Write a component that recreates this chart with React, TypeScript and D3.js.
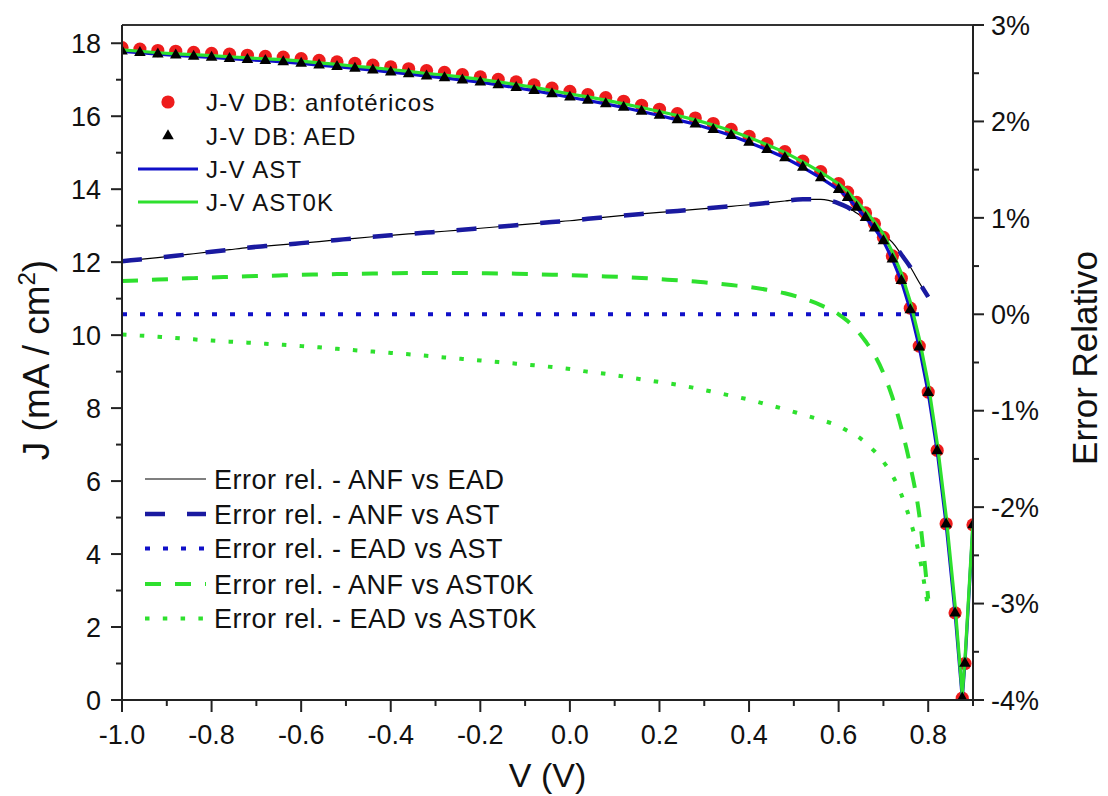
import React from 'react';
import * as d3 from 'd3';

// ---------------- data ----------------
const voltage = [
  -1.0, -0.96, -0.92, -0.88, -0.84, -0.8, -0.76, -0.72, -0.68, -0.64,
  -0.6, -0.56, -0.52, -0.48, -0.44, -0.4, -0.36, -0.32, -0.28, -0.24,
  -0.2, -0.16, -0.12, -0.08, -0.04, 0.0, 0.04, 0.08, 0.12, 0.16,
  0.2, 0.24, 0.28, 0.32, 0.36, 0.4, 0.44, 0.48, 0.52, 0.56,
  0.6, 0.62, 0.64, 0.66, 0.68, 0.7, 0.72, 0.74, 0.76, 0.78,
  0.8, 0.82, 0.84, 0.86, 0.876, 0.882, 0.9,
];

// J-V DB: anfotéricos (red circles)
const jAnfotericos = [
  17.88, 17.84, 17.80, 17.78, 17.75, 17.72, 17.70, 17.67, 17.64, 17.62,
  17.58, 17.53, 17.49, 17.45, 17.40, 17.35, 17.30, 17.25, 17.20, 17.14,
  17.08, 17.01, 16.94, 16.86, 16.77, 16.68, 16.59, 16.51, 16.41, 16.30,
  16.19, 16.07, 15.95, 15.80, 15.64, 15.45, 15.25, 15.03, 14.77, 14.48,
  14.15, 13.92, 13.64, 13.35, 13.05, 12.68, 12.17, 11.56, 10.74, 9.70,
  8.44, 6.84, 4.83, 2.39, 0.05, 1.0, 4.8,
];

// J-V DB: AED (black triangles)
const jAed = [
  17.78, 17.74, 17.70, 17.67, 17.64, 17.61, 17.58, 17.55, 17.52, 17.49,
  17.45, 17.40, 17.36, 17.31, 17.26, 17.21, 17.16, 17.10, 17.05, 16.99,
  16.93, 16.86, 16.78, 16.70, 16.61, 16.52, 16.43, 16.34, 16.24, 16.13,
  16.02, 15.90, 15.78, 15.63, 15.47, 15.28, 15.08, 14.86, 14.60, 14.31,
  13.99, 13.77, 13.50, 13.22, 12.93, 12.58, 12.08, 11.49, 10.69, 9.67,
  8.42, 6.83, 4.82, 2.38, 0.05, 1.0, 4.8,
];

// J-V AST (blue line)
const jAst = [
  17.78, 17.74, 17.70, 17.67, 17.64, 17.61, 17.58, 17.55, 17.52, 17.49,
  17.45, 17.40, 17.36, 17.31, 17.26, 17.21, 17.16, 17.10, 17.05, 16.99,
  16.93, 16.86, 16.78, 16.70, 16.61, 16.52, 16.43, 16.34, 16.24, 16.13,
  16.02, 15.90, 15.78, 15.63, 15.47, 15.28, 15.08, 14.86, 14.60, 14.31,
  13.99, 13.77, 13.50, 13.22, 12.93, 12.58, 12.08, 11.49, 10.69, 9.67,
  8.42, 6.83, 4.82, 2.38, 0.05, 1.0, 4.8,
];

// J-V AST0K (green line)
const jAst0k = [
  17.82, 17.78, 17.74, 17.71, 17.69, 17.66, 17.63, 17.60, 17.57, 17.55,
  17.51, 17.46, 17.42, 17.37, 17.33, 17.28, 17.23, 17.17, 17.13, 17.07,
  17.01, 16.94, 16.87, 16.79, 16.70, 16.61, 16.53, 16.44, 16.34, 16.24,
  16.13, 16.02, 15.90, 15.76, 15.60, 15.42, 15.22, 15.01, 14.75, 14.47,
  14.15, 13.94, 13.67, 13.40, 13.11, 12.77, 12.28, 11.70, 10.92, 9.91,
  8.68, 7.05, 5.05, 2.60, 0.15, 1.1, 4.9,
];

// Relative errors (%), V from -1.0 to 0.80 (first 51 voltages)
const errAnfVsEad = [
  0.550, 0.569, 0.588, 0.607, 0.628, 0.649, 0.670, 0.691, 0.707, 0.722,
  0.738, 0.754, 0.771, 0.788, 0.804, 0.819, 0.833, 0.847, 0.861, 0.876,
  0.892, 0.908, 0.924, 0.940, 0.956, 0.970, 0.990, 1.008, 1.025, 1.041,
  1.057, 1.072, 1.088, 1.104, 1.120, 1.136, 1.155, 1.175, 1.192, 1.192,
  1.150, 1.110, 1.050, 0.990, 0.905, 0.830, 0.745, 0.620, 0.490, 0.330,
  0.180,
];

const errAnfVsAst = [
  0.550, 0.569, 0.588, 0.607, 0.628, 0.649, 0.670, 0.691, 0.707, 0.722,
  0.738, 0.754, 0.771, 0.788, 0.804, 0.819, 0.833, 0.847, 0.861, 0.876,
  0.892, 0.908, 0.924, 0.940, 0.956, 0.970, 0.990, 1.008, 1.025, 1.041,
  1.057, 1.072, 1.088, 1.104, 1.120, 1.136, 1.155, 1.175, 1.192, 1.192,
  1.150, 1.110, 1.050, 0.990, 0.905, 0.830, 0.745, 0.620, 0.490, 0.330,
  0.180,
];

const errEadVsAst = [
  0, 0, 0, 0, 0, 0, 0, 0, 0, 0,
  0, 0, 0, 0, 0, 0, 0, 0, 0, 0,
  0, 0, 0, 0, 0, 0, 0, 0, 0, 0,
  0, 0, 0, 0, 0, 0, 0, 0, 0, 0,
  0, 0, 0, 0, 0, 0, 0, 0, 0, 0,
  0,
];

const errAnfVsAst0k = [
  0.345, 0.352, 0.360, 0.368, 0.375, 0.382, 0.388, 0.394, 0.399, 0.404,
  0.409, 0.413, 0.417, 0.420, 0.423, 0.425, 0.427, 0.428, 0.429, 0.428,
  0.426, 0.424, 0.421, 0.416, 0.411, 0.405, 0.399, 0.393, 0.386, 0.377,
  0.365, 0.352, 0.340, 0.322, 0.303, 0.283, 0.255, 0.218, 0.165, 0.095,
  0.000, -0.070, -0.160, -0.280, -0.420, -0.610, -0.860, -1.180, -1.570, -2.080,
  -2.950,
];

const errEadVsAst0k = [
  -0.210, -0.220, -0.232, -0.245, -0.260, -0.273, -0.284, -0.294, -0.305, -0.316,
  -0.329, -0.343, -0.358, -0.373, -0.387, -0.401, -0.415, -0.431, -0.447, -0.463,
  -0.479, -0.496, -0.512, -0.529, -0.547, -0.568, -0.596, -0.617, -0.645, -0.675,
  -0.702, -0.730, -0.766, -0.805, -0.845, -0.885, -0.935, -0.985, -1.040, -1.095,
  -1.160, -1.210, -1.260, -1.330, -1.420, -1.530, -1.670, -1.870, -2.140, -2.500,
  -3.050,
];

const xTicks = [-1.0, -0.8, -0.6, -0.4, -0.2, 0.0, 0.2, 0.4, 0.6, 0.8];
const yLeftTicks = [0, 2, 4, 6, 8, 10, 12, 14, 16, 18];
const yRightTicks = [-4, -3, -2, -1, 0, 1, 2, 3];

const legendTop = ['J-V DB: anfotéricos', 'J-V DB: AED', 'J-V AST', 'J-V AST0K'];
const legendBottom = [
  'Error rel. - ANF vs EAD',
  'Error rel. - ANF vs AST',
  'Error rel. - EAD vs AST',
  'Error rel. - ANF vs AST0K',
  'Error rel. - EAD vs AST0K',
];

// ---------------- styles ----------------
const FONT = '"Liberation Sans", Arial, Helvetica, sans-serif';
const TXT = '#111';
const BLUE = '#1010c8';
const DBLUE = '#1a1aa0';
const GREEN = '#2ee02e';
const RED = '#ee1c1c';

const PL = 122, PR = 973, PT = 25, PB = 700;

export default function App() {
  const x = d3.scaleLinear().domain([-1.0, 0.9]).range([PL, PR]);
  const yL = d3.scaleLinear().domain([0, 18.5]).range([PB, PT]);
  const yR = d3.scaleLinear().domain([-4, 3]).range([PB, PT]);

  const jvPts = (arr: number[]) => arr.map((j, i) => [voltage[i], j] as [number, number]);
  const errPts = (arr: number[]) => arr.map((e, i) => [voltage[i], e] as [number, number]);

  const lineL = d3.line<[number, number]>().x(d => x(d[0])).y(d => yL(d[1]));
  const lineR = d3.line<[number, number]>().x(d => x(d[0])).y(d => yR(d[1])).curve(d3.curveMonotoneX);

  const tri = d3.symbol().type(d3.symbolTriangle).size(58)() as string;

  const xMinor = d3.range(-1.0, 0.9001, 0.1).map(v => Math.round(v * 10) / 10);
  const yLMinor = d3.range(0, 19, 1);
  const yRMinor = d3.range(-4, 3.001, 0.5);

  const errSeries = [
    { data: errAnfVsEad, color: '#000', width: 1.2, dash: undefined as string | undefined },
    { data: errAnfVsAst, color: DBLUE, width: 4.5, dash: '20 22' },
    { data: errEadVsAst, color: BLUE, width: 4, dash: '5 13' },
    { data: errAnfVsAst0k, color: GREEN, width: 4, dash: '16 14' },
    { data: errEadVsAst0k, color: GREEN, width: 4, dash: '4.5 13.3' },
  ];

  const fmtX = (t: number) => t.toFixed(1);

  return (
    <svg
      width={1108}
      height={796}
      style={{ position: 'absolute', left: 0, top: 0, background: '#fff' }}
      fontFamily={FONT}
    >
      <defs>
        <clipPath id="plotClip">
          <rect x={PL} y={PT} width={PR - PL} height={PB - PT} />
        </clipPath>
      </defs>
      <rect x={0} y={0} width={1108} height={796} fill="#fff" />

      <g clipPath="url(#plotClip)">
        {/* error curves (right axis) */}
        {errSeries.map((s, k) => (
          <path
            key={'e' + k}
            d={lineR(errPts(s.data)) as string}
            fill="none"
            stroke={s.color}
            strokeWidth={s.width}
            strokeDasharray={s.dash}
          />
        ))}

        {/* J-V data */}
        {voltage.map((v, i) => (
          <circle key={'c' + i} cx={x(v)} cy={yL(jAnfotericos[i])} r={6.6} fill={RED} />
        ))}
        <path d={lineL(jvPts(jAst)) as string} fill="none" stroke={BLUE} strokeWidth={3.2} />
        <path d={lineL(jvPts(jAst0k)) as string} fill="none" stroke={GREEN} strokeWidth={3.2} />
        {voltage.map((v, i) => (
          <path key={'t' + i} d={tri} transform={`translate(${x(v)},${yL(jAed[i])})`} fill="#000" />
        ))}
      </g>

      {/* frame */}
      <line x1={PL} x2={PR} y1={PT} y2={PT} stroke="#333" strokeWidth={2} />
      <line x1={PL} x2={PL} y1={PT} y2={PB} stroke="#222" strokeWidth={2} />
      <line x1={PR} x2={PR} y1={PT} y2={PB} stroke="#222" strokeWidth={2} />
      <line x1={PL} x2={PR} y1={PB} y2={PB} stroke="#222" strokeWidth={2} />

      {/* x axis */}
      {xMinor.map((v, i) => {
        const major = xTicks.some(t => Math.abs(t - v) < 1e-6);
        return (
          <line key={'xm' + i} x1={x(v)} x2={x(v)} y1={PB} y2={PB + (major ? 12 : 6)} stroke="#222" strokeWidth={2} />
        );
      })}
      {xTicks.map(t => (
        <text key={'xt' + t} x={x(t)} y={744} textAnchor="middle" fontSize={27} fill={TXT}>
          {fmtX(t)}
        </text>
      ))}
      <text x={(PL + PR) / 2} y={787} textAnchor="middle" fontSize={34} fill={TXT}>V (V)</text>

      {/* left axis */}
      {yLMinor.map(v => {
        const major = v % 2 === 0;
        return (
          <line key={'yl' + v} x1={PL - (major ? 11 : 6)} x2={PL} y1={yL(v)} y2={yL(v)} stroke="#222" strokeWidth={2} />
        );
      })}
      {yLeftTicks.map(t => (
        <text key={'ylt' + t} x={101} y={yL(t) + 9.7} textAnchor="end" fontSize={27} fill={TXT}>{t}</text>
      ))}
      <text transform={`translate(49,360) rotate(-90)`} textAnchor="middle" fontSize={37} fill={TXT}>
        J (mA / cm<tspan dy={-14} fontSize={24}>2</tspan><tspan dy={14}>)</tspan>
      </text>

      {/* right axis */}
      {yRMinor.map((v, i) => {
        const major = Math.abs(v - Math.round(v)) < 1e-6;
        return (
          <line key={'yr' + i} x1={PR} x2={PR + (major ? 11 : 6)} y1={yR(v)} y2={yR(v)} stroke="#222" strokeWidth={2} />
        );
      })}
      {yRightTicks.map(t => (
        <text key={'yrt' + t} x={991} y={yR(t) + 9.7} textAnchor="start" fontSize={27} fill={TXT}>
          {t + '%'}
        </text>
      ))}
      <text transform={`translate(1097,358) rotate(-90)`} textAnchor="middle" fontSize={35} fill={TXT}>
        Error Relativo
      </text>

      {/* top legend */}
      <g>
        <circle cx={168} cy={102} r={6.6} fill={RED} />
        <path d={tri} transform="translate(168,136)" fill="#000" />
        <line x1={138} x2={198} y1={169} y2={169} stroke={BLUE} strokeWidth={3.2} />
        <line x1={138} x2={198} y1={202} y2={202} stroke={GREEN} strokeWidth={3.2} />
        {legendTop.map((s, i) => (
          <text key={'lt' + i} x={206} y={[102, 136, 169, 202][i] + 8.5} fontSize={24} letterSpacing={1.2} fill={TXT}>{s}</text>
        ))}
      </g>

      {/* bottom legend */}
      <g>
        {legendBottom.map((s, i) => {
          const cy = [479, 514, 548.5, 584, 618.5][i];
          const st = errSeries[i];
          return (
            <g key={'lb' + i}>
              <line x1={145} x2={206} y1={cy} y2={cy} stroke={st.color} strokeWidth={st.width}
                strokeDasharray={st.dash} />
              <text x={214} y={cy + 9.5} fontSize={27} letterSpacing={0.5} fill={TXT}>{s}</text>
            </g>
          );
        })}
      </g>
    </svg>
  );
}
